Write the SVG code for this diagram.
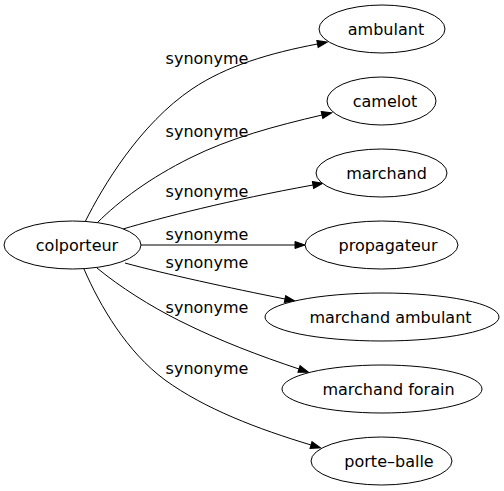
<svg xmlns="http://www.w3.org/2000/svg" width="504" height="491" viewBox="0 0 504 491">
<defs>
<style>
.node ellipse{fill:#fff;stroke:#000;stroke-width:1}
text{font-family:"DejaVu Sans",sans-serif;font-size:16px;fill:#000;text-anchor:middle}
.edges path{fill:none;stroke:#000;stroke-width:1;marker-end:url(#arr)}
</style>
<marker id="arr" markerUnits="userSpaceOnUse" markerWidth="10" markerHeight="7" refX="0" refY="3.5" orient="auto" overflow="visible">
<path d="M0,0 L10,3.5 L0,7 z" fill="#000" stroke="#000" stroke-width="1"/>
</marker>
</defs>
<rect width="504" height="491" fill="#fff"/>
<g class="edges" id="edges">
<path d="M85,222 C103,186 140,124 192,89 C226,66 270,53 317.5,44"/>
<path d="M97,223 C120,200 150,178 190,158 C230,138 275,126 322,115"/>
<path d="M123,229 C160,218 230,200 313,185"/>
<path d="M141,245 L295,245"/>
<path d="M125,263 C165,274 230,288 285,299"/>
<path d="M97,268 C120,287 150,306 180,321 C220,341 260,356 299,369"/>
<path d="M84,269 C100,306 127,352 165,380 C205,409 258,429 311,445"/>
<text x="207" y="63.5">synonyme</text>
<text x="207" y="136.5">synonyme</text>
<text x="207" y="196.5">synonyme</text>
<text x="207" y="240">synonyme</text>
<text x="207" y="267.5">synonyme</text>
<text x="207" y="312.5">synonyme</text>
<text x="207" y="374">synonyme</text>
</g>
<g class="node" id="n-colporteur"><ellipse cx="72.5" cy="245" rx="68.5" ry="24"/><text x="77" y="251">colporteur</text></g>
<g class="node" id="n-ambulant"><ellipse cx="382" cy="29" rx="63" ry="24"/><text x="386" y="35">ambulant</text></g>
<g class="node" id="n-camelot"><ellipse cx="381.5" cy="101" rx="54.5" ry="24"/><text x="385" y="107">camelot</text></g>
<g class="node" id="n-marchand"><ellipse cx="381.5" cy="173" rx="65.5" ry="24"/><text x="386.5" y="179">marchand</text></g>
<g class="node" id="n-propagateur"><ellipse cx="381.5" cy="245" rx="76.5" ry="24"/><text x="388" y="251">propagateur</text></g>
<g class="node" id="n-marchand-ambulant"><ellipse cx="382" cy="317" rx="117" ry="24"/><text x="390.5" y="323">marchand ambulant</text></g>
<g class="node" id="n-marchand-forain"><ellipse cx="382" cy="389" rx="100" ry="24"/><text x="388.5" y="395">marchand forain</text></g>
<g class="node" id="n-porte-balle"><ellipse cx="381.5" cy="461" rx="70.5" ry="24"/><text x="389" y="467">porte–balle</text></g>
</svg>
